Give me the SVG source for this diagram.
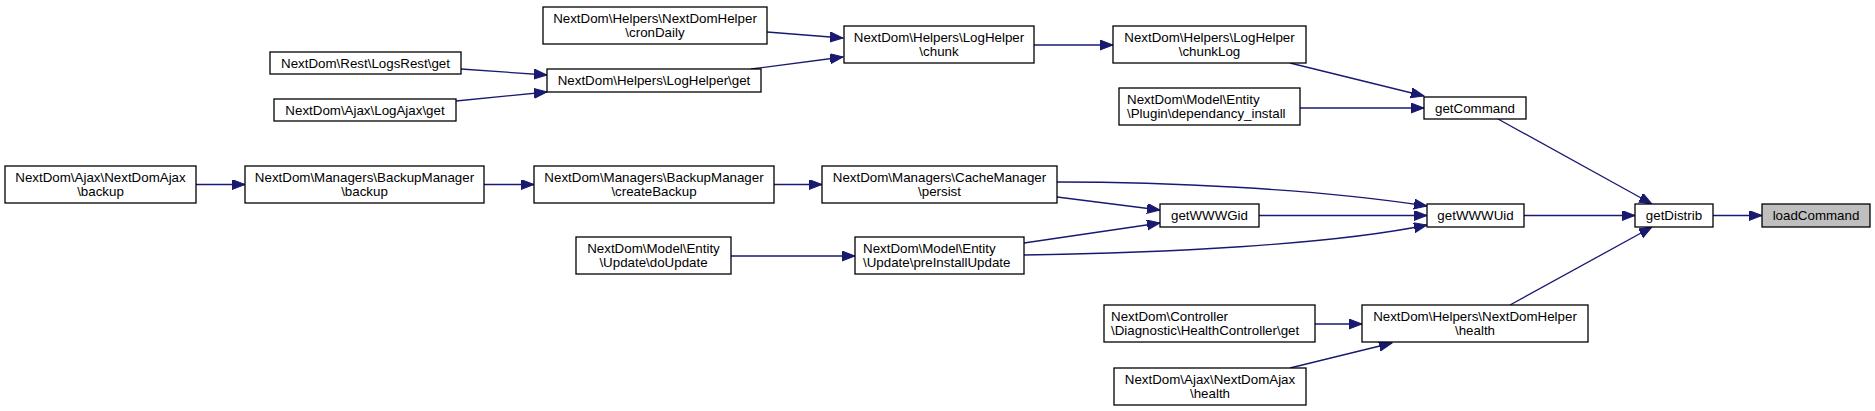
<svg xmlns="http://www.w3.org/2000/svg" width="1875" height="411" viewBox="0 0 1875 411">
<style>
.n rect{fill:#fff;stroke:#000;stroke-width:1.3}
.n text{font-family:"Liberation Sans",Arial,Helvetica,sans-serif;font-size:13.33px;fill:#000}
.c{text-anchor:middle}
.l{text-anchor:start}
.e path{fill:none;stroke:#191970;stroke-width:1.3;marker-end:url(#ah)}
</style>
<defs>
<marker id="ah" markerUnits="userSpaceOnUse" markerWidth="14" markerHeight="11" refX="13" refY="5" orient="auto" viewBox="0 0 14 11">
<path d="M0,0 L13,5 L0,10 z" fill="#191970" stroke="#191970" stroke-width="1"/>
</marker>
</defs>
<rect width="1875" height="411" fill="#fff"/>
<g id="edges" class="e">
<path d="M767,32 L843,38"/>
<path d="M751,69 L843,57"/>
<path d="M461,69 L547,75"/>
<path d="M456,101 L547,92"/>
<path d="M1034,45 L1113,45"/>
<path d="M1290,63 L1424,96"/>
<path d="M1300,108 L1424,108"/>
<path d="M1498,119 L1652,204"/>
<path d="M196,184.5 L245,184.5"/>
<path d="M484,184.5 L534,184.5"/>
<path d="M774,184.5 L822,184.5"/>
<path d="M1057,182 C1160,182 1310,188 1427,206"/>
<path d="M1057,197 L1160,210"/>
<path d="M1259,215.5 L1427,215.5"/>
<path d="M1024,243 L1160,223"/>
<path d="M1024,255 C1160,253 1330,245 1427,225"/>
<path d="M731,256 L855,256"/>
<path d="M1524,215.5 L1635,215.5"/>
<path d="M1713,215.5 L1762,215.5"/>
<path d="M1510,305 L1652,227"/>
<path d="M1315,324 L1362,324"/>
<path d="M1290,368 L1392,343"/>
</g>
<g id="cronDaily" class="n"><rect x="543" y="7" width="224" height="37"/><text class="c" x="655" y="23">NextDom\Helpers\NextDomHelper</text><text class="c" x="655" y="37">\cronDaily</text></g>
<g id="chunk" class="n"><rect x="844" y="26" width="190" height="37"/><text class="c" x="939" y="42">NextDom\Helpers\LogHelper</text><text class="c" x="939" y="56">\chunk</text></g>
<g id="chunkLog" class="n"><rect x="1113" y="26" width="193" height="37"/><text class="c" x="1209.5" y="42">NextDom\Helpers\LogHelper</text><text class="c" x="1209.5" y="56">\chunkLog</text></g>
<g id="logsRestGet" class="n"><rect x="270" y="52" width="191" height="22"/><text class="c" x="365.5" y="67.5">NextDom\Rest\LogsRest\get</text></g>
<g id="logHelperGet" class="n"><rect x="547" y="69" width="214" height="23"/><text class="c" x="654" y="85">NextDom\Helpers\LogHelper\get</text></g>
<g id="logAjaxGet" class="n"><rect x="274" y="99" width="182" height="22"/><text class="c" x="365" y="114.5">NextDom\Ajax\LogAjax\get</text></g>
<g id="dependancyInstall" class="n"><rect x="1119" y="88" width="181" height="37"/><text class="l" x="1127" y="104">NextDom\Model\Entity</text><text class="l" x="1127" y="118">\Plugin\dependancy_install</text></g>
<g id="getCommand" class="n"><rect x="1424" y="97" width="102" height="22"/><text class="c" x="1475" y="112.5">getCommand</text></g>
<g id="nextDomAjaxBackup" class="n"><rect x="5" y="166" width="191" height="37"/><text class="c" x="100.5" y="182">NextDom\Ajax\NextDomAjax</text><text class="c" x="100.5" y="196">\backup</text></g>
<g id="backupManagerBackup" class="n"><rect x="245" y="166" width="239" height="37"/><text class="c" x="364.5" y="182">NextDom\Managers\BackupManager</text><text class="c" x="364.5" y="196">\backup</text></g>
<g id="createBackup" class="n"><rect x="534" y="166" width="240" height="37"/><text class="c" x="654" y="182">NextDom\Managers\BackupManager</text><text class="c" x="654" y="196">\createBackup</text></g>
<g id="persist" class="n"><rect x="822" y="166" width="235" height="37"/><text class="c" x="939.5" y="182">NextDom\Managers\CacheManager</text><text class="c" x="939.5" y="196">\persist</text></g>
<g id="getWWWGid" class="n"><rect x="1160" y="204" width="99" height="23"/><text class="c" x="1209.5" y="220">getWWWGid</text></g>
<g id="getWWWUid" class="n"><rect x="1427" y="204" width="97" height="23"/><text class="c" x="1475.5" y="220">getWWWUid</text></g>
<g id="getDistrib" class="n"><rect x="1635" y="204" width="78" height="23"/><text class="c" x="1674" y="220">getDistrib</text></g>
<g id="loadCommand" class="n"><rect x="1762" y="204" width="108" height="23" style="fill:#bfbfbf"/><text class="c" x="1816" y="220">loadCommand</text></g>
<g id="doUpdate" class="n"><rect x="576" y="237" width="155" height="37"/><text class="c" x="653.5" y="253">NextDom\Model\Entity</text><text class="c" x="653.5" y="267">\Update\doUpdate</text></g>
<g id="preInstallUpdate" class="n"><rect x="855" y="237" width="169" height="37"/><text class="l" x="863" y="253">NextDom\Model\Entity</text><text class="l" x="863" y="267">\Update\preInstallUpdate</text></g>
<g id="healthControllerGet" class="n"><rect x="1104" y="305" width="211" height="37"/><text class="l" x="1111" y="321">NextDom\Controller</text><text class="l" x="1111" y="335">\Diagnostic\HealthController\get</text></g>
<g id="nextDomHelperHealth" class="n"><rect x="1362" y="305" width="226" height="37"/><text class="c" x="1475" y="321">NextDom\Helpers\NextDomHelper</text><text class="c" x="1475" y="335">\health</text></g>
<g id="nextDomAjaxHealth" class="n"><rect x="1114" y="368" width="192" height="37"/><text class="c" x="1210" y="384">NextDom\Ajax\NextDomAjax</text><text class="c" x="1210" y="398">\health</text></g>
</svg>
